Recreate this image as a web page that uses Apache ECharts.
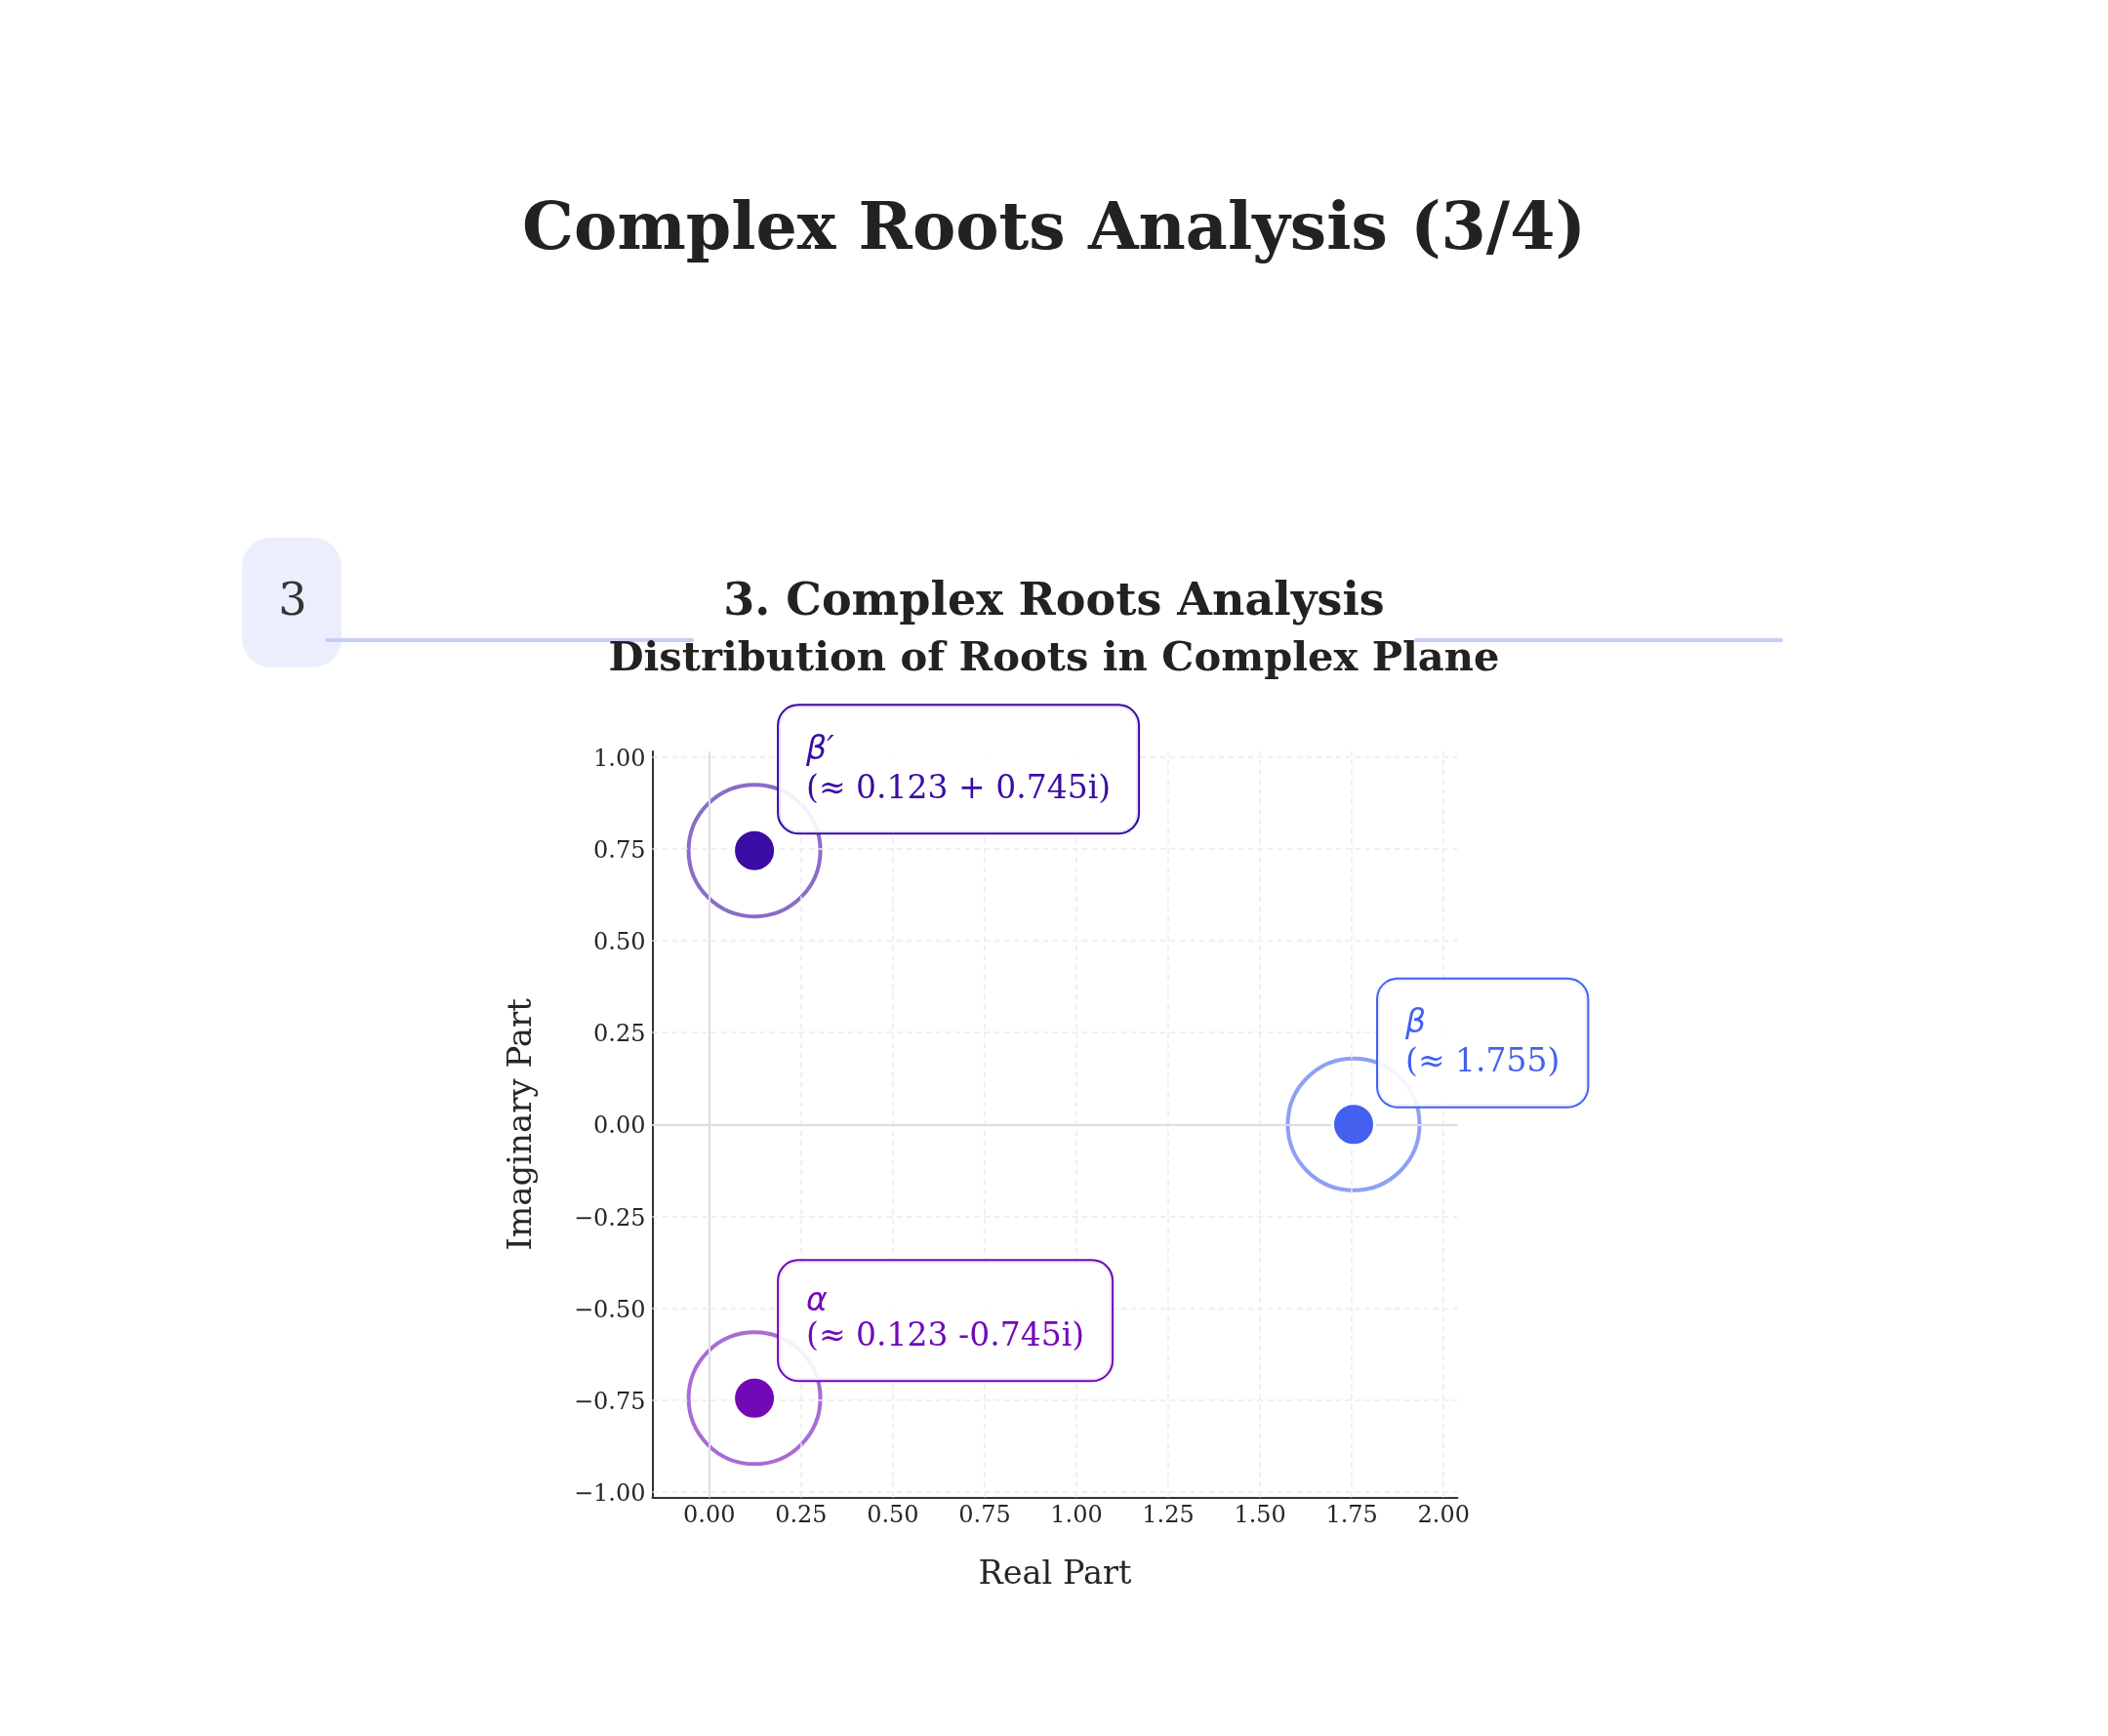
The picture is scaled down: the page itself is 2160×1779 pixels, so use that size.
<!DOCTYPE html>
<html>
<head>
<meta charset="utf-8">
<script src="https://cdn.jsdelivr.net/npm/echarts@6/dist/echarts.min.js"></script>
<style>
html,body{margin:0;padding:0;background:#fff;}
#chart{width:2160px;height:1779px;}
</style>
</head>
<body>
<div id="chart"></div>
<script>
// ---- data ----
const rootNames = ['β′', 'β', 'α'];
const rootReal = [0.123, 1.755, 0.123];
const rootImag = [0.745, 0.0, -0.745];
const rootValueText = ['(≈ 0.123 + 0.745i)', '(≈ 1.755)', '(≈ 0.123 -0.745i)'];
const rootColors = ['#3a0ca3', '#4361ee', '#7209b7'];
const xTicks = [0, 0.25, 0.5, 0.75, 1.0, 1.25, 1.5, 1.75, 2.0];
const yTicks = [-1.0, -0.75, -0.5, -0.25, 0, 0.25, 0.5, 0.75, 1.0];
const referenceX = [0];
const referenceY = [0];

function hexToRgba(hex, a) {
  const n = parseInt(hex.slice(1), 16);
  return 'rgba(' + ((n >> 16) & 255) + ',' + ((n >> 8) & 255) + ',' + (n & 255) + ',' + a + ')';
}
function fmt(v) {
  return (v < 0 ? '\u2212' : '') + Math.abs(v).toFixed(2);
}
// symbols without ascender/descender (α) get a shorter first line, as in the original
function firstLineHeight(name) {
  return /[βδθλ]/.test(name) ? 40 : 32;
}

const SERIF = '"DejaVu Serif", serif';
const chart = echarts.init(document.getElementById('chart'), null, {renderer: 'canvas'});

const ringData = rootNames.map((n, i) => ({
  name: n,
  value: [rootReal[i], rootImag[i]],
  itemStyle: {color: 'rgba(255,255,255,0)', borderColor: hexToRgba(rootColors[i], 0.6), borderWidth: 4, opacity: 1}
}));
const dotData = rootNames.map((n, i) => ({
  name: n,
  value: [rootReal[i], rootImag[i]],
  itemStyle: {color: rootColors[i], borderColor: '#ffffff', borderWidth: 3, opacity: 1},
  label: {
    show: true,
    position: [48, 4.5],
    align: 'left',
    verticalAlign: 'bottom',
    formatter: '{a|' + n + '}\n{b|' + rootValueText[i] + '}',
    backgroundColor: 'rgba(255,255,255,0.9)',
    borderColor: rootColors[i],
    borderWidth: 2,
    borderRadius: 20,
    padding: [26, 28, 24, 28],
    opacity: 1,
    rich: {
      a: {color: rootColors[i], fontSize: 33, lineHeight: firstLineHeight(n), fontFamily: '"DejaVu Sans", sans-serif', fontStyle: 'italic'},
      b: {color: rootColors[i], fontSize: 33, lineHeight: 40, fontFamily: SERIF}
    }
  }
}));

const gridLineStyle = {color: '#ebebeb', width: 1.5, type: [6, 4]};
const refLineStyle = {color: '#dcdde4', width: 2, type: 'solid'};

const option = {
  animation: false,
  backgroundColor: '#ffffff',
  grid: {left: 668.5, right: 666.5, top: 770, bottom: 244.5, containLabel: false, outerBoundsMode: 'none'},
  xAxis: {
    type: 'value', min: -0.155, max: 2.038,
    name: 'Real Part', nameLocation: 'middle', nameGap: 63,
    nameTextStyle: {fontFamily: SERIF, fontSize: 33.5, color: '#262626'},
    axisLine: {show: true, onZero: false, lineStyle: {color: '#333333', width: 2}},
    axisTick: {show: false},
    splitLine: {show: false},
    axisLabel: {customValues: xTicks, formatter: fmt, fontFamily: SERIF, fontSize: 24, color: '#262626', margin: 7.5}
  },
  yAxis: {
    type: 'value', min: -1.015, max: 1.015,
    name: 'Imaginary Part', nameLocation: 'middle', nameGap: 116,
    nameTextStyle: {fontFamily: SERIF, fontSize: 34, color: '#262626'},
    axisLine: {show: true, onZero: false, lineStyle: {color: '#333333', width: 2}},
    axisTick: {show: false},
    splitLine: {show: false},
    axisLabel: {customValues: yTicks, formatter: fmt, fontFamily: SERIF, fontSize: 24, color: '#262626', margin: 7, verticalAlign: 'top', lineHeight: 6}
  },
  series: [
    {
      type: 'line', data: [], silent: true, z: 1,
      markLine: {
        silent: true, symbol: ['none', 'none'], label: {show: false}, animation: false,
        lineStyle: gridLineStyle,
        data: xTicks.map(v => ({xAxis: v})).concat(yTicks.map(v => ({yAxis: v})))
      }
    },
    {
      type: 'line', data: [], silent: true, z: 2,
      markLine: {
        silent: true, symbol: ['none', 'none'], label: {show: false}, animation: false,
        lineStyle: refLineStyle,
        data: referenceX.map(v => ({xAxis: v})).concat(referenceY.map(v => ({yAxis: v})))
      }
    },
    {
      type: 'scatter', name: 'rings', z: 3, silent: true,
      symbol: 'circle', symbolSize: 135,
      itemStyle: {opacity: 1},
      data: ringData
    },
    {
      type: 'scatter', name: 'roots', z: 5, silent: true,
      symbol: 'circle', symbolSize: 43,
      itemStyle: {opacity: 1},
      data: dotData
    }
  ],
  graphic: [
    {type: 'text', x: 1080, y: 237.5, style: {text: 'Complex Roots Analysis (3/4)', font: 'bold 66.5px "DejaVu Serif", serif', fill: '#222222', align: 'center', verticalAlign: 'middle'}},
    {type: 'rect', shape: {x: 248, y: 551, width: 102, height: 133, r: 30}, style: {fill: '#ebeefd'}},
    {type: 'text', x: 300, y: 618, style: {text: '3', font: '46px "DejaVu Serif", serif', fill: '#333333', align: 'center', verticalAlign: 'middle'}},
    {type: 'line', shape: {x1: 335, y1: 656, x2: 709, y2: 656}, style: {stroke: '#c7cdf9', lineWidth: 4, lineCap: 'round'}},
    {type: 'line', shape: {x1: 1451, y1: 656, x2: 1825, y2: 656}, style: {stroke: '#c7cdf9', lineWidth: 4, lineCap: 'round'}},
    {type: 'text', x: 1080, y: 618, style: {text: '3. Complex Roots Analysis', font: 'bold 46px "DejaVu Serif", serif', fill: '#222222', align: 'center', verticalAlign: 'middle'}},
    {type: 'text', x: 1080, y: 676, style: {text: 'Distribution of Roots in Complex Plane', font: 'bold 41.6px "DejaVu Serif", serif', fill: '#222222', align: 'center', verticalAlign: 'middle'}}
  ]
};
chart.setOption(option);
</script>
</body>
</html>
